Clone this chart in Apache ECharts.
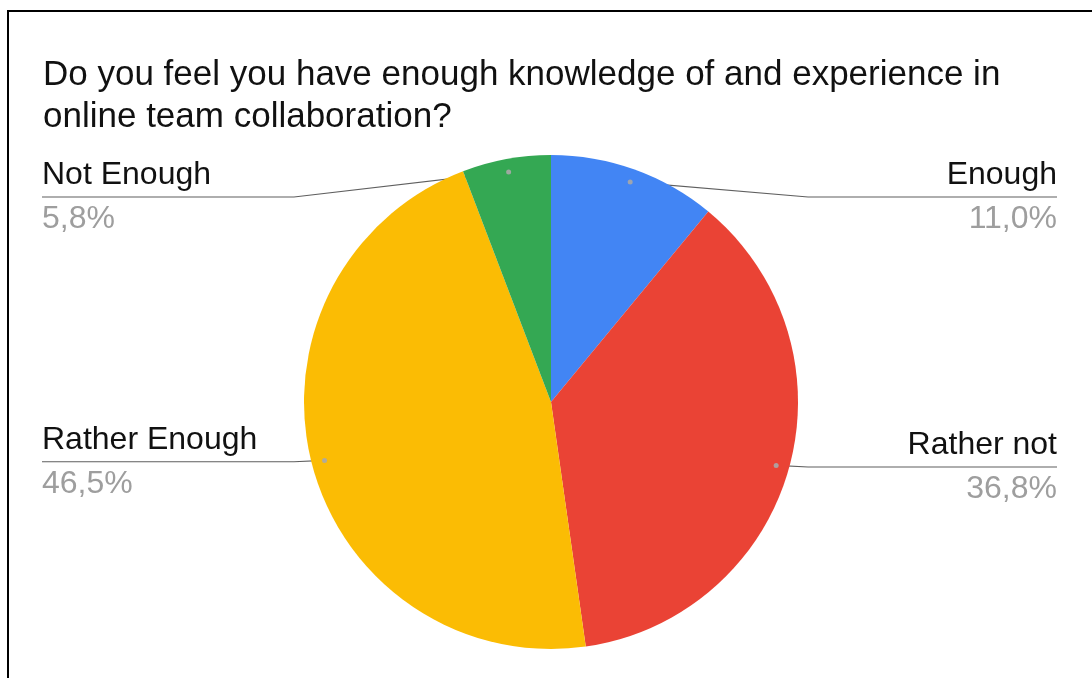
<!DOCTYPE html>
<html>
<head>
<meta charset="utf-8">
<script src="https://cdn.jsdelivr.net/npm/echarts@6/dist/echarts.min.js"></script>
<style>
  html, body { margin: 0; padding: 0; background: #fff; }
  #chart { width: 1092px; height: 678px; }
</style>
</head>
<body>
<div id="chart"></div>
<script>
// Survey answers, clockwise from 12 o'clock
const categories = ['Enough', 'Rather not', 'Rather Enough', 'Not Enough'];
const shares = [11.0, 36.8, 46.5, 5.8];
const sliceColors = ['#4285f4', '#ea4335', '#fbbc04', '#34a853'];
const titleText = 'Do you feel you have enough knowledge of and experience in\nonline team collaboration?';

const W = 1092, H = 678;
const CX = 551, CY = 402, R = 247;
const DOT_R = 0.947;       // anchor dot radius (fraction of pie radius)
const LABEL_TOP = 197;     // labels never rise above this line
const LEFT_EDGE = 42, RIGHT_EDGE = W - 35;
const KNEE = R + 10;
const FONT = '"Liberation Sans", Arial, sans-serif';

const total = shares.reduce((a, b) => a + b, 0);
// mid-angle of each slice as a share of the total
const mids = [];
{
  let acc = 0;
  shares.forEach(v => { mids.push(acc + v / 2); acc += v; });
}
const fmt = v => v.toFixed(1).replace('.', ',') + '%';

const chart = echarts.init(document.getElementById('chart'), null, { renderer: 'canvas' });

chart.setOption({
  animation: false,
  backgroundColor: '#ffffff',
  textStyle: { fontFamily: FONT },
  title: {
    text: titleText,
    left: 38,
    top: 49,
    textStyle: {
      fontFamily: FONT,
      fontSize: 35,
      fontWeight: 'normal',
      color: '#111111',
      lineHeight: 42
    }
  },
  graphic: [{
    type: 'rect',
    silent: true,
    shape: { x: 8, y: 11, width: 1200, height: 800 },
    style: { fill: 'none', stroke: '#000', lineWidth: 2 }
  }],
  polar: { center: [CX, CY], radius: R },
  angleAxis: { type: 'value', min: 0, max: total, startAngle: 90, clockwise: true, show: false },
  radiusAxis: { type: 'value', min: 0, max: 1, show: false },
  series: [
    {
      type: 'pie',
      center: [CX, CY],
      radius: R,
      startAngle: 90,
      clockwise: true,
      avoidLabelOverlap: false,
      data: categories.map((c, i) => ({ name: c, value: shares[i], itemStyle: { color: sliceColors[i] } })),
      itemStyle: { borderWidth: 0 },
      emphasis: { disabled: true },
      label: {
        show: true,
        position: 'outside',
        formatter: p => '{n|' + p.name + '}\n{p|' + fmt(p.value) + '}',
        rich: {
          n: { fontSize: 32, color: '#111111', lineHeight: 44, fontFamily: FONT },
          p: { fontSize: 32, color: '#9e9e9e', lineHeight: 44, fontFamily: FONT }
        }
      },
      labelLine: {
        show: true,
        length: 10,
        length2: 10,
        lineStyle: { color: '#5f5f5f', width: 1.2 }
      },
      labelLayout: function (params) {
        const i = params.dataIndex;
        const ang = mids[i] / total * Math.PI * 2;
        const sx = Math.sin(ang), cy = -Math.cos(ang);
        const right = sx >= 0;
        const dot = [CX + sx * R * DOT_R, CY + cy * R * DOT_R];
        const ly = Math.max(CY + cy * R - 2, LABEL_TOP);
        const knee = [CX + (right ? KNEE : -KNEE), ly];
        const end = [right ? RIGHT_EDGE : LEFT_EDGE, ly];
        return {
          x: end[0],
          y: ly,
          align: right ? 'right' : 'left',
          verticalAlign: 'middle',
          labelLinePoints: [dot, knee, end]
        };
      }
    },
    {
      // small anchor dots where the leader lines start
      type: 'scatter',
      coordinateSystem: 'polar',
      symbol: 'circle',
      symbolSize: 5,
      silent: true,
      itemStyle: { color: '#a8a8a8', opacity: 0.9 },
      data: mids.map(m => [DOT_R, m]),
      z: 5
    }
  ]
});
</script>
</body>
</html>
